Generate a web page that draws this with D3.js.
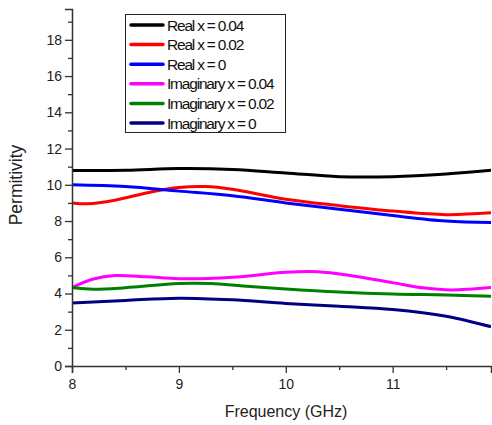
<!DOCTYPE html>
<html>
<head>
<meta charset="utf-8">
<script src="https://cdn.jsdelivr.net/npm/d3@7"></script>
<style>
  html, body { margin: 0; padding: 0; background: #fff; }
  svg { display: block; font-family: "Liberation Sans", Arial, sans-serif; }
</style>
</head>
<body>
<svg id="chart" width="492" height="425"></svg>
<script>
// Frequency sample points (GHz) and permittivity per series
const freqReal004 = [8, 8.5, 9, 9.5, 10, 10.5, 11, 11.5, 11.92];
const real004     = [10.79, 10.8, 10.9, 10.85, 10.65, 10.45, 10.45, 10.6, 10.8];

const freqReal002 = [8, 8.15, 8.4, 8.75, 9, 9.25, 9.5, 10, 10.5, 11, 11.5, 11.92];
const real002     = [9.0, 8.95, 9.15, 9.62, 9.85, 9.9, 9.75, 9.2, 8.85, 8.55, 8.35, 8.45];

const freqReal0 = [8, 8.5, 9, 9.5, 10, 10.5, 11, 11.5, 11.92];
const real0     = [10.0, 9.9, 9.65, 9.4, 9.0, 8.65, 8.3, 8.0, 7.92];

const freqImag004 = [8, 8.2, 8.4, 8.7, 9, 9.5, 10, 10.3, 10.6, 11, 11.3, 11.55, 11.92];
const imag004     = [4.33, 4.8, 4.99, 4.92, 4.82, 4.9, 5.17, 5.2, 5.0, 4.6, 4.3, 4.2, 4.33];

const freqImag002 = [8, 8.2, 8.5, 9, 9.3, 9.6, 10, 10.5, 11, 11.5, 11.92];
const imag002     = [4.33, 4.24, 4.32, 4.55, 4.55, 4.42, 4.25, 4.08, 3.97, 3.92, 3.85];

const freqImag0 = [8, 8.5, 9, 9.5, 10, 10.5, 11, 11.5, 11.92];
const imag0     = [3.48, 3.62, 3.74, 3.65, 3.45, 3.3, 3.12, 2.75, 2.17];

const seriesNames = ["Real x = 0.04", "Real x = 0.02", "Real x = 0",
                     "Imaginary x = 0.04", "Imaginary x = 0.02", "Imaginary x = 0"];
const seriesColors = ["#000000", "#ff0000", "#0000ff", "#ff00ff", "#008000", "#000080"];

const xTickValues = [8, 9, 10, 11];
const yTickValues = [0, 2, 4, 6, 8, 10, 12, 14, 16, 18];

const series = [
  { x: freqReal004, y: real004 },
  { x: freqReal002, y: real002 },
  { x: freqReal0,   y: real0 },
  { x: freqImag004, y: imag004 },
  { x: freqImag002, y: imag002 },
  { x: freqImag0,   y: imag0 }
].map((s, i) => ({
  name: seriesNames[i],
  color: seriesColors[i],
  points: s.x.map((f, j) => [f, s.y[j]])
}));

const svg = d3.select("#chart");
const plot = { left: 72, right: 491, top: 9, bottom: 366 };

const x = d3.scaleLinear().domain([8, 11.92]).range([plot.left, plot.right]);
const y = d3.scaleLinear().domain([0, 19.7]).range([plot.bottom, plot.top]);

// Curves, clipped to the plotting area
svg.append("clipPath").attr("id", "clip")
  .append("rect")
  .attr("x", plot.left).attr("y", plot.top)
  .attr("width", plot.right - plot.left).attr("height", plot.bottom - plot.top);

const line = d3.line()
  .x(d => x(d[0]))
  .y(d => y(d[1]))
  .curve(d3.curveCatmullRom.alpha(0.5));

svg.append("g").attr("clip-path", "url(#clip)")
  .selectAll("path")
  .data(series)
  .join("path")
  .attr("d", d => line(d.points))
  .attr("fill", "none")
  .attr("stroke", d => d.color)
  .attr("stroke-width", 3)
  .attr("stroke-linejoin", "round");

// Axes: minor ticks first, then major ticks with labels
const axisColor = "#333";

const xMinor = svg.append("g").attr("transform", `translate(0,${plot.bottom})`)
  .call(d3.axisBottom(x).tickValues([8.5, 9.5, 10.5, 11.5]).tickSize(4).tickFormat(""));
const xMajor = svg.append("g").attr("transform", `translate(0,${plot.bottom})`)
  .call(d3.axisBottom(x).tickValues(xTickValues).tickSize(7).tickPadding(6).tickFormat(d3.format("d")));

const yMinor = svg.append("g").attr("transform", `translate(${plot.left},0)`)
  .call(d3.axisLeft(y).tickValues([1, 3, 5, 7, 9, 11, 13, 15, 17, 19]).tickSize(4).tickFormat(""));
const yMajor = svg.append("g").attr("transform", `translate(${plot.left},0)`)
  .call(d3.axisLeft(y).tickValues(yTickValues).tickSize(7).tickPadding(3).tickFormat(d3.format("d")));

[xMinor, xMajor, yMinor, yMajor].forEach(g => {
  g.select(".domain").attr("stroke", axisColor).attr("stroke-width", 1.5);
  g.selectAll(".tick line").attr("stroke", axisColor).attr("stroke-width", 1.3);
  g.selectAll(".tick text")
    .attr("fill", "#222")
    .style("font-size", "14px")
    .style("font-family", "'Liberation Sans', Arial, sans-serif");
});
// the major-axis domain path is enough once
xMinor.select(".domain").remove();
yMinor.select(".domain").remove();

// Axis titles
svg.append("text")
  .attr("x", 286).attr("y", 417)
  .attr("text-anchor", "middle")
  .attr("fill", "#222")
  .style("font-size", "16px")
  .text("Frequency (GHz)");

svg.append("text")
  .attr("transform", "translate(22,185) rotate(-90)")
  .attr("text-anchor", "middle")
  .attr("fill", "#222")
  .style("font-size", "17.5px")
  .text("Permitivity");

// Legend
const legend = svg.append("g");
legend.append("rect")
  .attr("x", 125.5).attr("y", 14.5)
  .attr("width", 160).attr("height", 118)
  .attr("fill", "#fff")
  .attr("stroke", "#222")
  .attr("stroke-width", 1);

const rows = legend.selectAll("g.row")
  .data(series)
  .join("g")
  .attr("class", "row")
  .attr("transform", (d, i) => `translate(0,${25 + i * 19.6})`);

rows.append("line")
  .attr("x1", 131).attr("x2", 163)
  .attr("y1", 0).attr("y2", 0)
  .attr("stroke", d => d.color)
  .attr("stroke-width", 3.5)
  .attr("stroke-linecap", "round");

rows.append("text")
  .attr("x", 167).attr("y", 5.5)
  .attr("fill", "#111")
  .style("font-size", "15.5px")
  .style("letter-spacing", "-1.2px")
  .text(d => d.name);
</script>
</body>
</html>
